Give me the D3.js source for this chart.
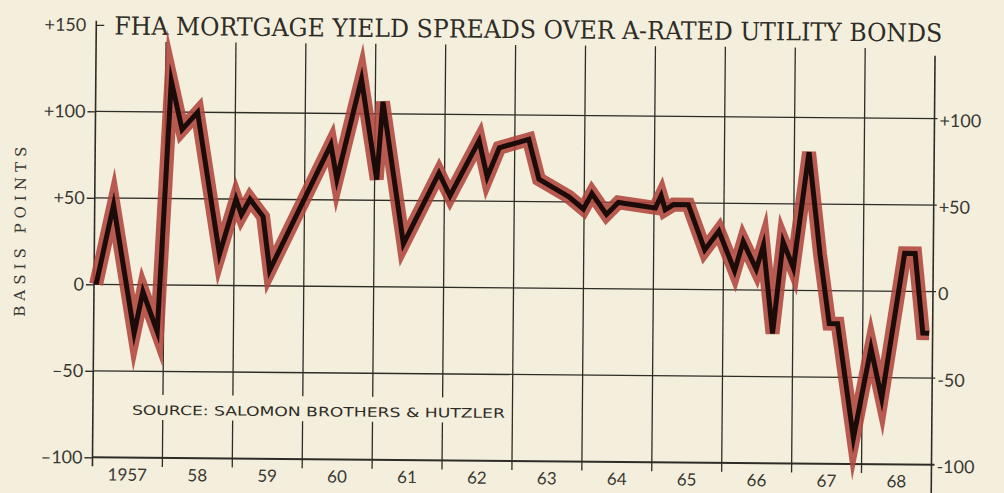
<!DOCTYPE html>
<html>
<head>
<meta charset="utf-8">
<script src="https://cdn.jsdelivr.net/npm/d3@7"></script>
<style>
  body { margin: 0; background: #f4efdc; }
  svg { display: block; }
</style>
</head>
<body>
<script>
// FHA mortgage yield spreads over A-rated utility bonds, basis points
const dates = [
  1957.03, 1957.27, 1957.58, 1957.70, 1957.91, 1958.08, 1958.24, 1958.46, 1958.79, 1959.02,
  1959.10, 1959.22, 1959.41, 1959.51, 1960.37, 1960.46, 1960.80, 1961.03, 1961.11, 1961.42,
  1961.92, 1962.08, 1962.49, 1962.61, 1962.78, 1963.20, 1963.35, 1963.78, 1963.99, 1964.11,
  1964.32, 1964.49, 1965.02, 1965.10, 1965.16, 1965.28, 1965.49, 1965.73, 1965.93, 1966.16,
  1966.28, 1966.47, 1966.57, 1966.71, 1966.85, 1967.00, 1967.21, 1967.38, 1967.52, 1967.64,
  1967.88, 1968.12, 1968.28, 1968.59, 1968.74, 1968.86, 1968.95
];
const spread = [
  0, 46, -28, -4, -27, 118, 90, 100, 18, 50,
  41, 50, 40, 9, 82, 62, 120, 62, 107, 25,
  66, 53, 85, 64, 81, 86, 63, 53, 46, 55,
  43, 50, 47, 54, 46, 49, 49, 23, 34, 11,
  28, 12, 26, -25, 28, 13, 80, 21, -19, -19,
  -85, -33, -62, 22, 22, -24, -24
];
const yearLabels = ["1957", "58", "59", "60", "61", "62", "63", "64", "65", "66", "67", "68"];
const leftTicks = [150, 100, 50, 0, -50, -100];
const rightTicks = [100, 50, 0, -50, -100];
const gridTicks = [100, 50, 0, -50, -100];

const width = 1004, height = 493;
const ink = '#2e2c27';
const bg = '#f4efdc';

const x = d3.scaleLinear().domain([1957, 1969]).range([94, 933]);
const y = d3.scaleLinear().domain([-100, 100]).range([461, 115]);

const svg = d3.select('body').append('svg')
    .attr('width', width)
    .attr('height', height);

svg.append('rect')
    .attr('width', width)
    .attr('height', height)
    .attr('fill', bg);

// the scanned sheet sits slightly askew
const g = svg.append('g').attr('transform', 'rotate(0.5,513,288)');

// vertical year lines
const years = d3.range(1957, 1970);
g.append('g').selectAll('line')
  .data(years)
  .join('line')
    .attr('x1', d => x(d)).attr('x2', d => x(d))
    .attr('y1', d => d === 1957 ? y(150) - 4 : d === 1969 ? 52 : 45)
    .attr('y2', d => d === 1969 ? 496 : 470)
    .attr('stroke', ink)
    .attr('stroke-width', d => (d === 1957 || d === 1969) ? 1.6 : 1.3);

// horizontal grid lines
g.append('g').selectAll('line')
  .data(gridTicks)
  .join('line')
    .attr('x1', x(1957)).attr('x2', x(1969) + 3)
    .attr('y1', d => y(d)).attr('y2', d => y(d))
    .attr('stroke', ink)
    .attr('stroke-width', d => d === -100 ? 2 : 1.3);

// left axis
const yAxis = d3.axisLeft(y)
    .tickValues(leftTicks)
    .tickSize(8)
    .tickFormat(d => d > 0 ? '+' + d : d < 0 ? '\u2013' + Math.abs(d) : '0');

const ax = g.append('g')
    .attr('transform', `translate(${x(1957)},0)`)
    .call(yAxis);
ax.select('.domain').remove();
ax.selectAll('.tick line').attr('stroke', ink).attr('stroke-width', 1.4);
ax.selectAll('.tick text')
    .attr('x', -10)
    .attr('fill', '#3a3833')
    .style('font-family', 'Lato, "DejaVu Sans", sans-serif')
    .style('font-size', '18px');
// +150 tick crosses the axis
ax.select('.tick line').attr('x2', 8);

// right labels
g.append('g').selectAll('text')
  .data(rightTicks)
  .join('text')
    .attr('x', x(1969) + 5)
    .attr('y', d => y(d) + 2)
    .attr('dy', '0.35em')
    .attr('fill', '#3a3833')
    .style('font-family', 'Lato, "DejaVu Sans", sans-serif')
    .style('font-size', '18px')
    .text(d => d > 0 ? '+' + d : d < 0 ? '-' + Math.abs(d) : '0');

// year labels, centred in each year
g.append('g').selectAll('text')
  .data(yearLabels)
  .join('text')
    .attr('x', (d, i) => x(1957 + i + 0.5))
    .attr('y', 484)
    .attr('text-anchor', 'middle')
    .attr('fill', '#3a3833')
    .style('font-family', 'Lato, "DejaVu Sans", sans-serif')
    .style('font-size', '17px')
    .text(d => d);

// source note, with the grid broken behind it
g.append('rect')
    .attr('x', 128).attr('y', 398)
    .attr('width', 384).attr('height', 25)
    .attr('fill', bg);
g.append('text')
    .attr('x', 133).attr('y', 418)
    .attr('textLength', 373)
    .attr('lengthAdjust', 'spacingAndGlyphs')
    .attr('fill', ink)
    .style('font-family', '"DejaVu Sans", sans-serif')
    .style('font-size', '13px')
    .text('SOURCE:  SALOMON BROTHERS & HUTZLER');

// title
g.append('text')
    .attr('x', 112).attr('y', 38)
    .attr('textLength', 828)
    .attr('lengthAdjust', 'spacingAndGlyphs')
    .attr('fill', ink)
    .style('font-family', '"DejaVu Serif", serif')
    .style('font-size', '25px')
    .text('FHA MORTGAGE YIELD SPREADS OVER A-RATED UTILITY BONDS');

// y title
g.append('text')
    .attr('transform', 'translate(25,236) rotate(-90)')
    .attr('text-anchor', 'middle')
    .attr('textLength', 170)
    .attr('lengthAdjust', 'spacing')
    .attr('fill', '#3a3833')
    .style('font-family', '"DejaVu Serif", serif')
    .style('font-size', '15px')
    .text('BASIS POINTS');

// the spread line: red halo with black core
const data = dates.map((d, i) => ({ t: d, v: spread[i] }));
const line = d3.line()
    .x(d => x(d.t))
    .y(d => y(d.v));

g.append('path')
    .datum(data)
    .attr('fill', 'none')
    .attr('stroke', '#b0463c')
    .attr('stroke-opacity', 0.88)
    .attr('stroke-width', 14)
    .attr('stroke-linejoin', 'miter')
    .attr('stroke-miterlimit', 8)
    .attr('d', line);

g.append('path')
    .datum(data)
    .attr('fill', 'none')
    .attr('stroke', '#1c0c09')
    .attr('stroke-width', 5)
    .attr('stroke-linejoin', 'miter')
    .attr('stroke-miterlimit', 8)
    .attr('d', line);
</script>
</body>
</html>
